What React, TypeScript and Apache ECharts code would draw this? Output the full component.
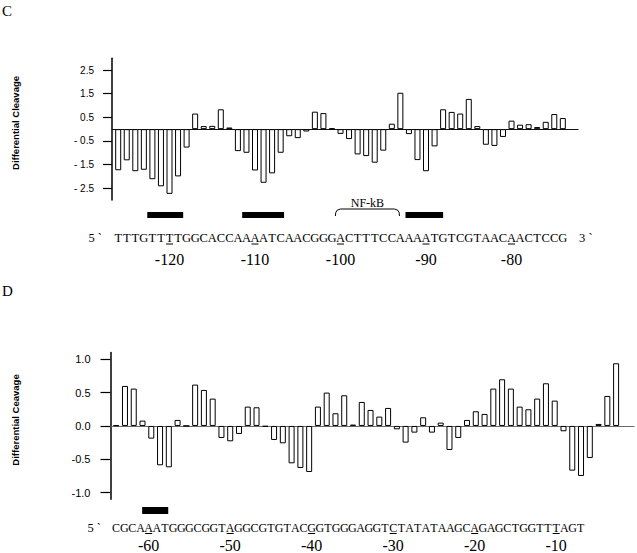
import React, { useEffect, useRef } from "react";
import * as echarts from "echarts";

// ---------- data ----------
const seqC = "TTTGTTTTGGCACCAAAATCAACGGGACTTTCCAAAATGTCGTAACAACTCCG";
const startC = -126;
const valuesC = [
  -1.74, -1.32, -1.78, -1.72, -2.12, -2.42, -2.74, -2.0, -0.78, 0.66,
  0.13, 0.14, 0.84, 0.07, -0.93, -1.0, -1.75, -2.27, -1.87, -1.0,
  -0.3, -0.38, -0.1, 0.74, 0.68, 0.03, -0.2, -0.42, -1.07, -1.14,
  -1.42, -0.91, 0.23, 1.54, -0.21, -1.31, -1.78, -0.73, 0.84, 0.73,
  0.66, 1.28, 0.13, -0.66, -0.71, -0.33, 0.36, 0.19, 0.21, 0.09,
  0.31, 0.64, 0.47,
];
const ticksC = [-2.5, -1.5, -0.5, 0.5, 1.5, 2.5];
const positionLabelsC = [-120, -110, -100, -90, -80];
const boxesC = [
  [-122.6, -118.4],
  [-111.5, -106.6],
  [-92.4, -88.0],
];
const bracketC = [[-100.6, -93.1]];
const bracketLabelC = "NF-kB";

const seqD = "CGCAAATGGGCGGTAGGCGTGTACGGTGGGAGGTCTATATAAGCAGAGCTGGTTTAGT";
const startD = -64;
const valuesD = [
  0.01, 0.6, 0.56, 0.08, -0.19, -0.59, -0.62, 0.09, 0.0, 0.62,
  0.54, 0.41, -0.18, -0.23, -0.12, 0.29, 0.28, -0.01, -0.21, -0.26,
  -0.56, -0.63, -0.69, 0.29, 0.5, 0.19, 0.46, 0.02, 0.36, 0.24,
  0.14, 0.27, -0.05, -0.25, -0.1, 0.13, -0.1, 0.05, -0.36, -0.18,
  0.09, 0.22, 0.18, 0.56, 0.7, 0.56, 0.29, 0.25, 0.41, 0.64,
  0.38, -0.08, -0.67, -0.75, -0.48, 0.03, 0.45, 0.94,
];
const ticksD = [-1.0, -0.5, 0.0, 0.5, 1.0];
const positionLabelsD = [-60, -50, -40, -30, -20, -10];
const boxesD = [[-60.8, -57.6]];

// ---------- styling ----------
const SANS = '"Liberation Sans", Arial, Helvetica, sans-serif';
const SERIF = '"Liberation Serif", "Times New Roman", Times, serif';

const centered = {
  align: "center",
  textAlign: "center",
  verticalAlign: "middle",
  textVerticalAlign: "middle",
};

function seqSeries(
  seq: string,
  start: number,
  labels: number[],
  gridAxis: number,
  letterSize: number,
  letterOff: number,
  ulOff: number,
  numOff: number
) {
  return {
    type: "custom",
    xAxisIndex: gridAxis,
    yAxisIndex: gridAxis,
    clip: false,
    silent: true,
    data: seq.split("").map((_, i) => [start + i, 0]),
    renderItem: (params: any, api: any) => {
      const p = api.value(0);
      const x = api.coord([p, 0])[0];
      const cs = params.coordSys;
      const ch = seq[params.dataIndex];
      const children: any[] = [
        {
          type: "text",
          style: {
            text: ch,
            x,
            y: cs.y + letterOff,
            ...centered,
            font: `${letterSize}px ${SERIF}`,
            fill: "#000",
          },
        },
      ];
      if (labels.includes(p)) {
        children.push({
          type: "line",
          shape: { x1: x - 3.5, y1: cs.y + ulOff, x2: x + 3.5, y2: cs.y + ulOff },
          style: { stroke: "#000", lineWidth: 1 },
        });
        children.push({
          type: "text",
          style: {
            text: String(p),
            x,
            y: cs.y + numOff,
            ...centered,
            font: `16px ${SERIF}`,
            fill: "#000",
          },
        });
      }
      return { type: "group", children };
    },
  };
}

function boxSeries(boxes: number[][], gridAxis: number, top: number, h: number) {
  return {
    type: "custom",
    xAxisIndex: gridAxis,
    yAxisIndex: gridAxis,
    clip: false,
    silent: true,
    data: boxes,
    renderItem: (params: any, api: any) => {
      const x1 = api.coord([api.value(0), 0])[0];
      const x2 = api.coord([api.value(1), 0])[0];
      const cs = params.coordSys;
      return {
        type: "rect",
        shape: { x: x1, y: cs.y + top, width: x2 - x1, height: h },
        style: { fill: "#000" },
      };
    },
  };
}

function bracketSeries(data: number[][], label: string, gridAxis: number) {
  return {
    type: "custom",
    xAxisIndex: gridAxis,
    yAxisIndex: gridAxis,
    clip: false,
    silent: true,
    data,
    renderItem: (params: any, api: any) => {
      const x1 = api.coord([api.value(0), 0])[0];
      const x2 = api.coord([api.value(1), 0])[0];
      const cs = params.coordSys;
      const yt = cs.y + 9;
      const yb = cs.y + 16;
      return {
        type: "group",
        children: [
          {
            type: "polyline",
            shape: {
              points: [
                [x1, yb],
                [x1 + 0.4, yt + 3.5],
                [x1 + 1.8, yt + 1.2],
                [x1 + 5, yt],
                [x2 - 5, yt],
                [x2 - 1.8, yt + 1.2],
                [x2 - 0.4, yt + 3.5],
                [x2, yb],
              ],
            },
            style: { stroke: "#000", lineWidth: 1, fill: null },
          },
          {
            type: "text",
            style: {
              text: label,
              x: (x1 + x2) / 2,
              y: cs.y + 3,
              ...centered,
              font: `12px ${SERIF}`,
              fill: "#000",
            },
          },
        ],
      };
    },
  };
}

export default function App() {
  const ref = useRef<HTMLDivElement>(null);

  useEffect(() => {
    if (!ref.current) return;
    const chart = echarts.init(ref.current, null, { renderer: "svg" });

    const hiddenAxis = (gridIndex: number, min: number, max: number) => ({
      gridIndex,
      type: "value",
      min,
      max,
      show: false,
    });

    const sideText = (text: string, x: number, y: number, align: string) => ({
      type: "text",
      x,
      y,
      style: {
        text,
        font: `12.5px ${SERIF}`,
        fill: "#000",
        align,
        textAlign: align,
        verticalAlign: "middle",
        textVerticalAlign: "middle",
      },
    });

    const yTitle = (text: string, y: number) => ({
      type: "text",
      x: 15,
      y,
      rotation: Math.PI / 2,
      style: { text, font: `bold 9.5px ${SANS}`, fill: "#000", ...centered },
    });

    const option: any = {
      animation: false,
      backgroundColor: "#fff",
      grid: [
        { left: 112, top: 58.3, width: 466, height: 141.7, outerBoundsMode: "none" },
        { left: 110.5, top: 352.6, width: 523.5, height: 146.7, outerBoundsMode: "none" },
        { left: 112, top: 200, width: 466, height: 70, outerBoundsMode: "none" },
        { left: 112, top: 500, width: 472.7, height: 53, outerBoundsMode: "none" },
      ],
      xAxis: [
        {
          gridIndex: 0,
          type: "value",
          min: -126.725,
          max: -72.225,
          axisLine: { show: true, onZero: true, lineStyle: { color: "#111", width: 1.2 } },
          axisTick: { show: false },
          axisLabel: { show: false },
          splitLine: { show: false },
        },
        {
          gridIndex: 1,
          type: "value",
          min: -64.65,
          max: -4.96,
          axisLine: { show: true, onZero: true, lineStyle: { color: "#6a6a6a", width: 1.2 } },
          axisTick: { show: false },
          axisLabel: { show: false },
          splitLine: { show: false },
        },
        hiddenAxis(2, -126.725, -72.225),
        hiddenAxis(3, -64.5, -6.5),
      ],
      yAxis: [
        {
          gridIndex: 0,
          type: "value",
          min: -3,
          max: 3,
          axisLine: { show: true, lineStyle: { color: "#000", width: 1.5 } },
          axisTick: {
            show: true,
            length: 9,
            customValues: ticksC,
            lineStyle: { color: "#000", width: 1.2 },
          },
          axisLabel: {
            customValues: ticksC,
            margin: 18,
            fontSize: 10,
            fontFamily: SANS,
            color: "#000",
            formatter: (v: number) => (v < 0 ? "- " + Math.abs(v).toFixed(1) : v.toFixed(1)),
          },
          splitLine: { show: false },
        },
        {
          gridIndex: 1,
          type: "value",
          min: -1.1,
          max: 1.1,
          axisLine: { show: true, lineStyle: { color: "#000", width: 1.5 } },
          axisTick: {
            show: true,
            length: 10,
            customValues: ticksD,
            lineStyle: { color: "#000", width: 1.2 },
          },
          axisLabel: {
            customValues: ticksD,
            margin: 20,
            fontSize: 11,
            fontFamily: SANS,
            color: "#000",
            formatter: (v: number) => v.toFixed(1),
          },
          splitLine: { show: false },
        },
        hiddenAxis(2, 0, 1),
        hiddenAxis(3, 0, 1),
      ],
      graphic: [
        { type: "text", left: 2, top: 3, style: { text: "C", font: `15px ${SERIF}`, fill: "#000" } },
        { type: "text", left: 2, top: 283, style: { text: "D", font: `15px ${SERIF}`, fill: "#000" } },
        yTitle("Differential Cleavage", 123),
        yTitle("Differential Ceavage", 420),
        sideText("5 `", 102, 238, "right"),
        sideText("3 `", 579, 238, "left"),
        sideText("5 `", 101, 528, "right"),
      ],
      series: [
        {
          type: "bar",
          xAxisIndex: 0,
          yAxisIndex: 0,
          barWidth: 6,
          data: valuesC.map((v, i) => [startC + i, v]),
          itemStyle: { color: "#fff", borderColor: "#000", borderWidth: 1 },
          silent: true,
        },
        {
          type: "bar",
          xAxisIndex: 1,
          yAxisIndex: 1,
          barWidth: 6,
          data: valuesD.map((v, i) => [startD + i, v]),
          itemStyle: { color: "#fff", borderColor: "#000", borderWidth: 1 },
          silent: true,
        },
        seqSeries(seqC, startC, positionLabelsC, 2, 12.5, 38, 44, 59),
        boxSeries(boxesC, 2, 12, 6),
        bracketSeries(bracketC, bracketLabelC, 2),
        seqSeries(seqD, startD, positionLabelsD, 3, 12, 28, 33.5, 45),
        boxSeries(boxesD, 3, 7, 7),
      ],
    };

    chart.setOption(option);
    return () => chart.dispose();
  }, []);

  return (
    <div
      ref={ref}
      style={{ position: "absolute", left: 0, top: 0, width: 637, height: 553 }}
    />
  );
}
